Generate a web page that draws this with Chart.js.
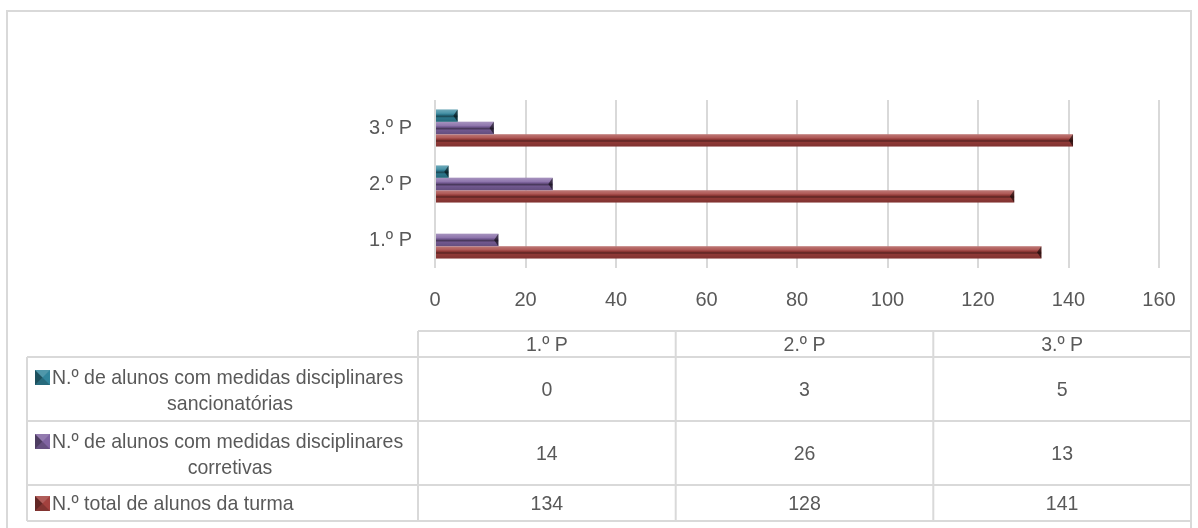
<!DOCTYPE html>
<html>
<head>
<meta charset="utf-8">
<script src="https://cdn.jsdelivr.net/npm/chart.js@4.4.1/dist/chart.umd.min.js"></script>
<style>
    html, body { margin: 0; padding: 0; background: #fff; }
    #wrap { width: 1198px; height: 528px; position: relative; }
</style>
</head>
<body>
<div id="wrap"><canvas id="chart" width="1198" height="528"></canvas></div>
<script>
// Data
const periods = ['1.º P', '2.º P', '3.º P'];
const xTicks = [0, 20, 40, 60, 80, 100, 120, 140, 160];

const sancionatorias = [0, 3, 5];
const corretivas = [14, 26, 13];
const totalTurma = [134, 128, 141];

const seriesLabels = [
    ['N.º de alunos com medidas disciplinares', 'sancionatórias'],
    ['N.º de alunos com medidas disciplinares', 'corretivas'],
    ['N.º total de alunos da turma']
];
const seriesColors = ['#31859C', '#8064A2', '#A3413E'];

const FONT = '"Liberation Sans", Arial, sans-serif';
const TEXT = '#595959';
const LINE = '#d9d9d9';
const SQUEEZE = 0.93; // reference text is slightly condensed

// Bevel look on each bar, using the bar element geometry from Chart.js
const bevelPlugin = {
    id: 'bevel',
    afterDatasetsDraw(chart) {
        const ctx = chart.ctx;
        chart.data.datasets.forEach((ds, i) => {
            const meta = chart.getDatasetMeta(i);
            meta.data.forEach(el => {
                const p = el.getProps(['x', 'y', 'base', 'height'], true);
                const left = Math.min(p.base, p.x);
                const right = Math.max(p.base, p.x);
                const w = right - left;
                if (w < 0.5) return;
                const top = p.y - p.height / 2;
                const h = p.height;
                ctx.save();
                const g = ctx.createLinearGradient(0, top, 0, top + h);
                g.addColorStop(0, 'rgba(255,255,255,0.30)');
                g.addColorStop(0.3, 'rgba(255,255,255,0.12)');
                g.addColorStop(0.42, 'rgba(0,0,0,0.10)');
                g.addColorStop(0.55, 'rgba(0,0,0,0.45)');
                g.addColorStop(0.68, 'rgba(0,0,0,0.12)');
                g.addColorStop(1, 'rgba(0,0,0,0.22)');
                ctx.fillStyle = g;
                ctx.fillRect(left, top, w, h);
                // right end chevron
                const cw = Math.min(w, h * 0.35);
                ctx.beginPath();
                ctx.moveTo(right, top);
                ctx.lineTo(right, top + h);
                ctx.lineTo(right - cw, p.y);
                ctx.closePath();
                ctx.fillStyle = 'rgba(0,0,0,0.55)';
                ctx.fill();
                ctx.restore();
            });
        });
    }
};

function drawKey(ctx, x, y, s, color) {
    ctx.save();
    ctx.fillStyle = color;
    ctx.fillRect(x, y, s, s);
    const cx = x + s / 2, cy = y + s / 2;
    const tri = (pts, fill) => {
        ctx.beginPath();
        ctx.moveTo(pts[0], pts[1]);
        ctx.lineTo(pts[2], pts[3]);
        ctx.lineTo(pts[4], pts[5]);
        ctx.closePath();
        ctx.fillStyle = fill;
        ctx.fill();
    };
    tri([x, y, x, y + s, cx, cy], 'rgba(0,0,0,0.40)');
    tri([x, y, x + s, y, cx, cy], 'rgba(255,255,255,0.15)');
    tri([x, y + s, x + s, y + s, cx, cy], 'rgba(0,0,0,0.20)');
    ctx.restore();
}

// condensed text helper
function squeezedText(ctx, txt, x, y, align) {
    ctx.save();
    ctx.translate(x, y);
    ctx.scale(SQUEEZE, 1);
    ctx.textAlign = align;
    ctx.fillText(txt, 0, 0);
    ctx.restore();
}

// Data table under the chart, built from the same arrays
const tablePlugin = {
    id: 'dataTable',
    afterDraw(chart) {
        const ctx = chart.ctx;
        const colX = [418, 675.7, 933.3, 1191];
        const rowY = [331, 357, 421, 485, 521];
        const labelLeft = 27;
        ctx.save();

        // outer frame
        ctx.strokeStyle = LINE;
        ctx.lineWidth = 2;
        ctx.strokeRect(7, 11, 1184, 530);

        // grid of the table
        ctx.beginPath();
        ctx.moveTo(colX[0], rowY[0]);
        ctx.lineTo(colX[3], rowY[0]);
        for (let r = 1; r < rowY.length; r++) {
            ctx.moveTo(labelLeft, rowY[r]);
            ctx.lineTo(colX[3], rowY[r]);
        }
        colX.forEach(x => {
            ctx.moveTo(x, rowY[0]);
            ctx.lineTo(x, rowY[4]);
        });
        ctx.moveTo(labelLeft, rowY[1]);
        ctx.lineTo(labelLeft, rowY[4]);
        ctx.stroke();

        ctx.fillStyle = TEXT;
        ctx.font = '21px ' + FONT;
        ctx.textBaseline = 'middle';

        // header
        periods.forEach((p, i) => {
            squeezedText(ctx, p, (colX[i] + colX[i + 1]) / 2, (rowY[0] + rowY[1]) / 2 + 1, 'center');
        });

        // rows: table lists series top to bottom in dataset order
        const rows = [sancionatorias, corretivas, totalTurma];
        rows.forEach((vals, r) => {
            const y0 = rowY[r + 1], y1 = rowY[r + 2];
            const cy = (y0 + y1) / 2;
            vals.forEach((v, c) => {
                squeezedText(ctx, String(v), (colX[c] + colX[c + 1]) / 2, cy + 1, 'center');
            });
            const lines = seriesLabels[r];
            if (lines.length === 1) {
                drawKey(ctx, 35, cy - 7, 15, seriesColors[r]);
                squeezedText(ctx, lines[0], 52, cy + 1, 'left');
            } else {
                const l1 = cy - 12, l2 = cy + 14;
                drawKey(ctx, 35, l1 - 7, 15, seriesColors[r]);
                squeezedText(ctx, lines[0], 52, l1 + 1, 'left');
                squeezedText(ctx, lines[1], 230, l2 + 1, 'center');
            }
        });
        ctx.restore();
    }
};

const ctx = document.getElementById('chart').getContext('2d');
new Chart(ctx, {
    type: 'bar',
    data: {
        labels: periods,
        datasets: [
            { label: seriesLabels[0].join(' '), data: sancionatorias, backgroundColor: seriesColors[0] },
            { label: seriesLabels[1].join(' '), data: corretivas, backgroundColor: seriesColors[1] },
            { label: seriesLabels[2].join(' '), data: totalTurma, backgroundColor: seriesColors[2] }
        ]
    },
    options: {
        indexAxis: 'y',
        responsive: false,
        devicePixelRatio: 1,
        animation: false,
        categoryPercentage: 0.66,
        barPercentage: 1.0,
        layout: { padding: { top: 100, right: 39, bottom: 210, left: 0 } },
        plugins: {
            legend: { display: false },
            tooltip: { enabled: false }
        },
        scales: {
            x: {
                min: 0,
                max: 160,
                afterBuildTicks: s => { s.ticks = xTicks.map(v => ({ value: v })); },
                afterFit: s => { s.height = 50; },
                ticks: { color: TEXT, font: { family: FONT, size: 20 }, padding: 20 },
                grid: { color: LINE, lineWidth: 2, drawTicks: false },
                border: { display: false }
            },
            y: {
                reverse: true,
                afterFit: s => { s.width = 435; },
                ticks: { color: TEXT, font: { family: FONT, size: 20 }, padding: 23 },
                grid: { display: false, drawTicks: false },
                border: { display: false }
            }
        }
    },
    plugins: [bevelPlugin, tablePlugin]
});
</script>
</body>
</html>
